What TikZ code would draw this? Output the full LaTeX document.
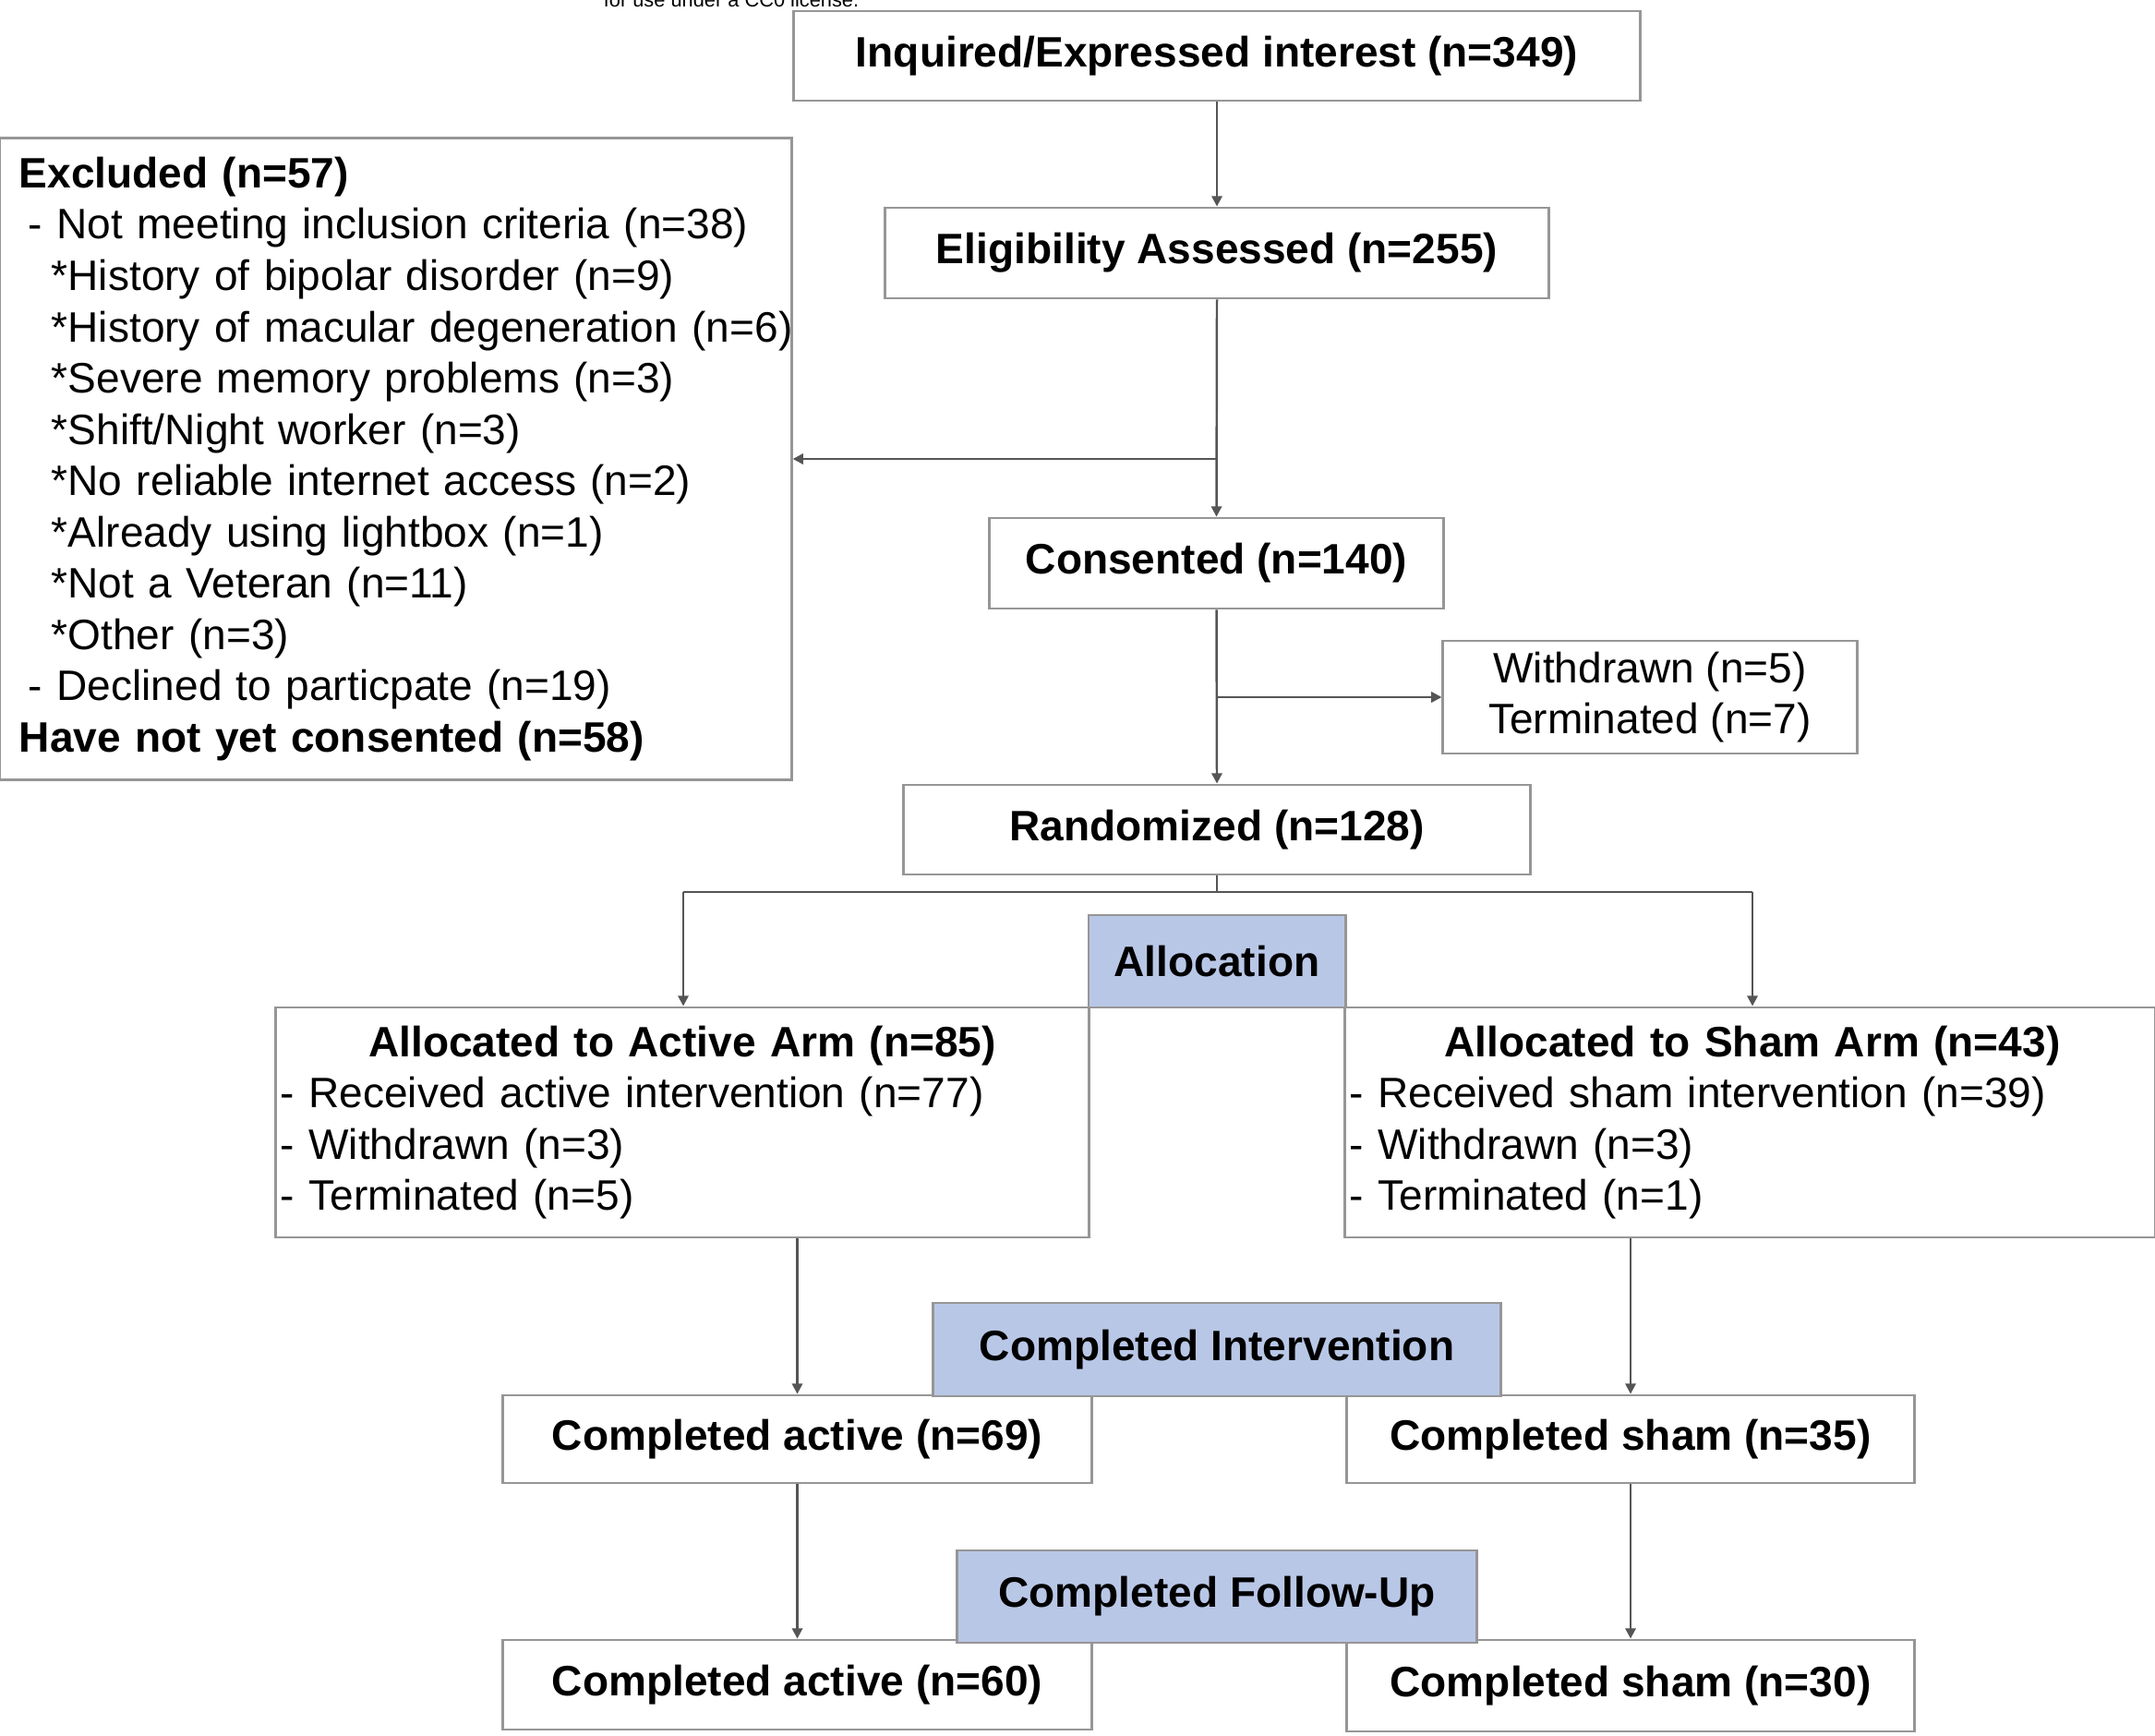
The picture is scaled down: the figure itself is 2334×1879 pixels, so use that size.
\documentclass[tikz,border=0pt]{standalone}
\usepackage{fontspec}
\setmainfont{Liberation Sans}
\usetikzlibrary{arrows.meta}
\definecolor{boxline}{RGB}{150,150,150}
\definecolor{conline}{RGB}{85,85,85}
\definecolor{labfill}{RGB}{185,199,231}
\begin{document}
\begin{tikzpicture}[x=0.01cm,y=-0.01cm,
  every node/.style={font=\fontsize{13.1}{15.8}\selectfont},
  box/.style={draw=boxline,line width=0.8pt,fill=white,inner sep=0pt,align=center},
  lab/.style={box,fill=labfill,font=\fontsize{13.1}{15.8}\selectfont\bfseries},
  bbox/.style={box,font=\fontsize{13.1}{15.8}\selectfont\bfseries},
  conn/.style={draw=conline,line width=0.7pt},
  arr/.style={conn,-{Triangle[length=3.2pt,width=3.2pt]}}]
\useasboundingbox (0,0) rectangle (2334,1879);
\fill[white] (0,0) rectangle (2334,1879);

\node[anchor=base,font=\fontsize{6.2}{7}\selectfont] (lic) at (792,8) {for use under a CC0 license.};

\node[bbox,minimum width=9.16cm,minimum height=0.97cm] (inq) at (1318,60.5) {Inquired/Expressed interest (n=349)};
\node[bbox,minimum width=7.19cm,minimum height=0.98cm] (elig) at (1318,274) {Eligibility Assessed (n=255)};
\node[box,minimum width=8.57cm,minimum height=6.94cm,text width=8.57cm,inner xsep=0pt,align=left] (excl) at (428.5,497) {%
\mbox{\hspace*{0.21cm}\textbf{Excluded (n=57)}}\\
\mbox{\hspace*{0.31cm}- Not meeting inclusion criteria (n=38)}\\
\mbox{\hspace*{0.56cm}*History of bipolar disorder (n=9)}\\
\mbox{\hspace*{0.56cm}*History of macular degeneration (n=6)}\\
\mbox{\hspace*{0.56cm}*Severe memory problems (n=3)}\\
\mbox{\hspace*{0.56cm}*Shift/Night worker (n=3)}\\
\mbox{\hspace*{0.56cm}*No reliable internet access (n=2)}\\
\mbox{\hspace*{0.56cm}*Already using lightbox (n=1)}\\
\mbox{\hspace*{0.56cm}*Not a Veteran (n=11)}\\
\mbox{\hspace*{0.56cm}*Other (n=3)}\\
\mbox{\hspace*{0.31cm}- Declined to particpate (n=19)}\\
\mbox{\hspace*{0.21cm}\textbf{Have not yet consented (n=58)}}};
\node[bbox,minimum width=4.91cm,minimum height=0.98cm] (cons) at (1317.5,610) {Consented (n=140)};
\node[box,minimum width=4.48cm,minimum height=1.22cm] (wd) at (1787,755) {Withdrawn (n=5)\\Terminated (n=7)};
\node[bbox,minimum width=6.78cm,minimum height=0.97cm] (rand) at (1318,898.5) {Randomized (n=128)};

\node[box,minimum width=8.80cm,minimum height=2.49cm,text width=8.70cm,inner xsep=0.05cm,align=left] (act) at (739,1215.5) {%
{\centering\textbf{Allocated to Active Arm (n=85)}\par}
- Received active intervention (n=77)\\
- Withdrawn (n=3)\\
- Terminated (n=5)};
\node[box,minimum width=8.77cm,minimum height=2.49cm,text width=8.67cm,inner xsep=0.05cm,align=left] (sham) at (1895.5,1215.5) {%
{\centering\hspace*{0.05cm}\textbf{Allocated to Sham Arm (n=43)}\par}
- Received sham intervention (n=39)\\
- Withdrawn (n=3)\\
- Terminated (n=1)};
\node[lab,minimum width=2.78cm,minimum height=1.00cm] (alloc) at (1318,1041) {Allocation};

\node[bbox,minimum width=6.37cm,minimum height=0.95cm] (ca69) at (863.5,1558.5) {Completed active (n=69)};
\node[bbox,minimum width=6.14cm,minimum height=0.95cm] (cs35) at (1766,1558.5) {Completed sham (n=35)};
\node[lab,minimum width=6.14cm,minimum height=1.01cm] (cint) at (1318,1461.5) {Completed Intervention};

\node[bbox,minimum width=6.37cm,minimum height=0.97cm] (ca60) at (863.5,1824.5) {Completed active (n=60)};
\node[bbox,minimum width=6.14cm,minimum height=0.99cm] (cs30) at (1766,1825.5) {Completed sham (n=30)};
\node[lab,minimum width=5.62cm,minimum height=1.00cm] (cfu) at (1318,1729) {Completed Follow-Up};

% connectors
\coordinate (b1) at (1318,497);
\coordinate (b2) at (1318,755);
\coordinate (sp) at (1318,966);
\coordinate (spl) at (740,966);
\coordinate (spr) at (1898,966);
\draw[arr] (inq.south) -- (elig.north);
\draw[arr] (elig.south) -- (cons.north);
\draw[arr] (b1) -- (excl.east |- b1);
\draw[arr] (cons.south) -- (rand.north);
\draw[arr] (b2) -- (wd.west |- b2);
\draw[conn] (rand.south) -- (sp);
\draw[conn] (spl) -- (spr);
\draw[arr] (spl) -- (spl |- act.north);
\draw[arr] (spr) -- (spr |- sham.north);
\draw[arr] (ca69.north |- act.south) -- (ca69.north);
\draw[arr] (ca69.south) -- (ca60.north);
\draw[arr] (cs35.north |- sham.south) -- (cs35.north);
\draw[arr] (cs35.south) -- (cs30.north);
\end{tikzpicture}
\end{document}
